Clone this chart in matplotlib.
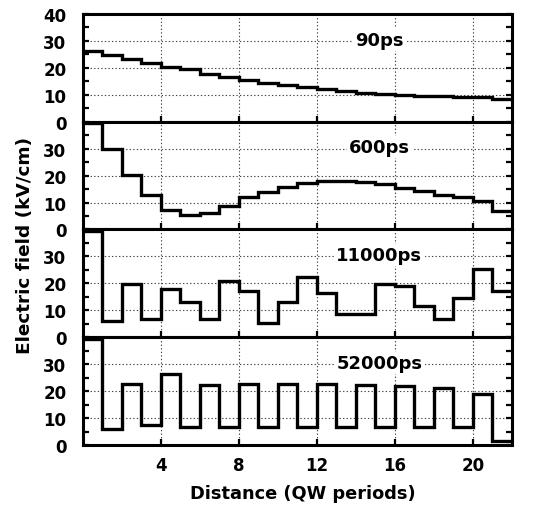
import numpy as np
import matplotlib
matplotlib.use("Agg")
import matplotlib.pyplot as plt

# ==========================================
# FIELD PROFILES (one value per QW period)
# ==========================================

edges = np.arange(0, 23)

field_90 = [26.4, 24.8, 23.3, 21.9, 20.4, 19.4, 17.9, 16.5, 15.6, 14.4, 13.8,
            13.0, 12.0, 11.4, 10.7, 10.4, 10.0, 9.6, 9.4, 9.1, 9.0, 8.6]
field_600 = [39.4, 29.7, 20.4, 12.9, 7.2, 5.3, 6.0, 8.9, 12.0, 13.8, 15.8,
             17.1, 18.0, 18.0, 17.7, 16.7, 15.4, 14.2, 12.9, 11.9, 10.6, 6.8]
field_11000 = [39.4, 6.0, 19.8, 6.6, 17.8, 13.2, 6.8, 20.8, 17.3, 5.3, 13.2,
               22.2, 16.5, 8.7, 8.7, 19.8, 19.0, 11.6, 6.6, 14.6, 25.3, 17.0]
field_52000 = [39.4, 6.0, 22.7, 7.3, 26.4, 6.7, 22.1, 6.7, 22.6, 6.7, 22.6,
               6.7, 22.6, 6.7, 22.2, 6.7, 22.0, 6.7, 21.1, 6.7, 19.0, 1.6]

series = [field_90, field_600, field_11000, field_52000]
labels = ["90ps", "600ps", "11000ps", "52000ps"]

xticks = [4, 8, 12, 16, 20]

# ==========================================
# FIGURE
# ==========================================

plt.rcParams["font.family"] = ["DejaVu Sans"]
plt.rcParams["font.weight"] = "bold"

fig = plt.figure(figsize=(5.34, 5.06), dpi=100)

left, width = 0.1554, 0.8034
bottom, total_h = 0.1186, 0.8518
panel_h = total_h / 4

for i, (vals, lab) in enumerate(zip(series, labels)):
    ax = fig.add_axes([left, bottom + (3 - i) * panel_h, width, panel_h])
    ax.stairs(vals, edges, baseline=None, color="black", lw=2.4,
              clip_on=False, zorder=3)

    ax.set_xlim(0, 22)
    ax.set_ylim(0, 40)
    ax.set_xticks(xticks)
    ax.set_yticks([0, 10, 20, 30, 40] if i == 0 else [0, 10, 20, 30])
    ax.set_yticks([5, 15, 25, 35], minor=True)
    ax.grid(True, which="major", linestyle=(0, (1.2, 2)), color="#444444", lw=0.8)

    ax.tick_params(axis="y", pad=12)
    ax.tick_params(axis="x", pad=8)
    ax.tick_params(direction="in", length=4, width=1.6, right=True, top=False,
                   labelsize=12)
    ax.tick_params(which="minor", direction="in", length=4, width=1.6, right=True)
    if i < 3:
        ax.tick_params(labelbottom=False)
    for lbl in ax.get_xticklabels() + ax.get_yticklabels():
        lbl.set_fontweight("bold")
    for sp in ax.spines.values():
        sp.set_linewidth(2.2)

    ax.text(15.2, 30.5, lab, ha="center", va="center", fontsize=13,
            fontweight="bold", zorder=4,
            bbox=dict(facecolor="white", edgecolor="none", pad=1.5))

fig.text(25 / 534, 1 - 245 / 506, "Electric field (kV/cm)", rotation=90,
         ha="center", va="center", fontsize=13.3, fontweight="bold")
fig.text(303 / 534, 1 - 494 / 506, "Distance (QW periods)",
         ha="center", va="center", fontsize=12.8, fontweight="bold")

plt.savefig("out.png", dpi=100)
plt.close()
